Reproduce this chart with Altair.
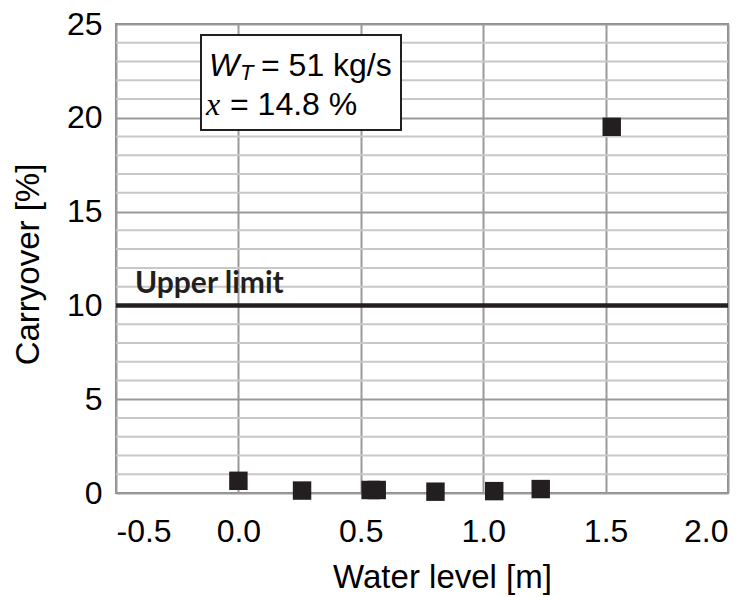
import altair as alt
import pandas as pd

# --- data ---
water_level = [0.0, 0.26, 0.54, 0.565, 0.805, 1.045, 1.235, 1.525]
carryover = [0.65, 0.13, 0.16, 0.16, 0.07, 0.10, 0.21, 19.52]
upper_limit = [10]
upper_label = ["Upper limit"]
x_ticks = [-0.5, 0.0, 0.5, 1.0, 1.5, 2.0]
y_ticks = [0, 5, 10, 15, 20, 25]
y_minor = [1, 2, 3, 4, 6, 7, 8, 9, 11, 12, 13, 14, 16, 17, 18, 19, 21, 22, 23, 24]

df = pd.DataFrame({"water_level": water_level, "carryover": carryover})
minor_df = pd.DataFrame({"carryover": y_minor})
limit_df = pd.DataFrame({"carryover": upper_limit, "label": upper_label, "water_level": [x_ticks[0]]})

xscale = alt.Scale(domain=[-0.5, 2.0], nice=False, zero=False)
yscale = alt.Scale(domain=[0, 25], nice=False)
FONT = "Liberation Sans"
FS = 32
TFS = 33

x_axis = alt.Axis(
    values=x_ticks, title="Water level [m]",
    labelExpr="datum.value < 0 ? '-' + format(-datum.value, '.1f') : format(datum.value, '.1f')",
    grid=True, gridColor="#9a9a9a", gridWidth=2, ticks=False, tickSize=0, domain=False,
    labelFontSize=FS, labelPadding=23, labelFont=FONT, labelColor="black",
    titleFont=FONT, titleFontSize=TFS, titleFontWeight="normal", titleColor="black",
    titleX=326, titleY=94, titleBaseline="alphabetic", titleAlign="center",
)
y_axis = alt.Axis(
    values=y_ticks, title="Carryover [%]", format="d",
    grid=True, gridColor="#9a9a9a", gridWidth=2, ticks=False, tickSize=0, domain=False,
    labelFontSize=FS, labelPadding=14, labelFont=FONT, labelColor="black",
    titleFont=FONT, titleFontSize=TFS, titleFontWeight="normal", titleColor="black",
    titleX=-88, titleY=240, titleAngle=-90, titleAlign="center", titleBaseline="middle",
)

X = alt.X("water_level:Q", scale=xscale, axis=x_axis)
Y = alt.Y("carryover:Q", scale=yscale, axis=y_axis)

minor = alt.Chart(minor_df).mark_rule(color="#c8c8c8", strokeWidth=2).encode(y=Y)

limit_line = alt.Chart(limit_df).mark_rule(color="#231f20", strokeWidth=4.5).encode(y=Y)

limit_text = alt.Chart(limit_df).mark_text(
    font="Lato", fontWeight="bold", fontSize=30, align="left", baseline="alphabetic",
    dx=19, dy=-12, color="#231f20"
).encode(x=X, y=Y, text="label:N")

points = alt.Chart(df).mark_square(size=340, color="#231f20", opacity=1, filled=True).encode(x=X, y=Y)

box = alt.Chart(limit_df).mark_rect(fill="white", stroke="#231f20", strokeWidth=2).encode(
    x=alt.value(85), x2=alt.value(285), y=alt.value(11), y2=alt.value(106)
)

def label(txt, x, y, size=FS, style="normal", font=FONT):
    return alt.Chart(limit_df).mark_text(
        text=txt, font=font, fontSize=size, fontStyle=style, align="left",
        baseline="alphabetic", color="black"
    ).encode(x=alt.value(x), y=alt.value(y))

ann = (
    label("W", 93, 52, style="italic")
    + label("T", 124, 56, size=22, style="italic")
    + label("= 51 kg/s", 145, 52)
    + label("x", 90, 91, style="italic", font="Liberation Serif")
    + label("= 14.8 %", 114, 91)
)

chart = alt.layer(minor, limit_line, points, limit_text, box, ann).properties(
    width=612, height=469,
    padding={"left": 116, "top": 24, "right": 27, "bottom": 104},
    autosize="none",
).configure_view(stroke="#8a8a8a", strokeWidth=2)

chart.save("out.html", embed_options={"renderer": "svg", "actions": False})
